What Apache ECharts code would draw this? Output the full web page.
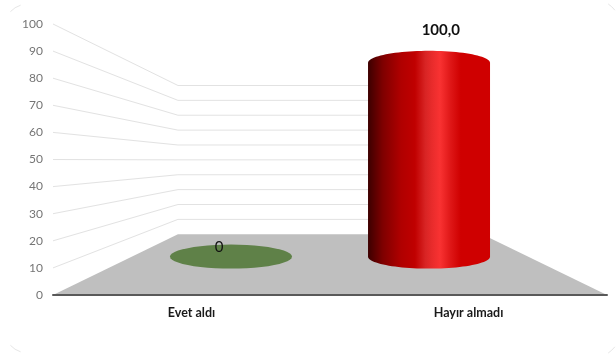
<!DOCTYPE html>
<html><head><meta charset="utf-8">
<style>html,body{margin:0;padding:0;background:#fff}#c{width:616px;height:356px}</style>
<script src="https://cdn.jsdelivr.net/npm/echarts@6/dist/echarts.min.js"></script>
</head><body><div id="c"></div>
<script>
const categories = ['Evet aldı', 'Hayır almadı'];
const values = [0, 100];
const valueLabels = ['0', '100,0'];
const wallTicks = [10, 20, 30, 40, 50, 60, 70, 80, 90, 100];

// perspective of the 3D box, applied on top of the axis scales
const BACK = 0.549, MID = 0.715, LABEL = 0.8, HORIZON = 49.7;
const RED = new echarts.graphic.LinearGradient(0, 0, 1, 0, [
  {offset: 0, color: '#3c0000'}, {offset: 0.12, color: '#7e0000'}, {offset: 0.27, color: '#b00000'},
  {offset: 0.385, color: '#c00000'}, {offset: 0.47, color: '#d82424'}, {offset: 0.53, color: '#ea2c2c'},
  {offset: 0.59, color: '#f93232'}, {offset: 0.68, color: '#de1616'}, {offset: 0.76, color: '#cf0000'}, {offset: 1, color: '#cf0000'}
]);

function projector(api, params) {
  const g = params.coordSys, cx = g.x + g.width / 2, hy = api.coord([0, HORIZON])[1];
  return (px, py, s) => [cx + (px - cx) * s, hy + (py - hy) * s];
}
function arc(cx, cy, rx, ry, from, to) {
  const out = [], n = 48;
  for (let i = 0; i <= n; i++) {
    const a = from + (to - from) * i / n;
    out.push([cx + rx * Math.cos(a), cy + ry * Math.sin(a)]);
  }
  return out;
}

const option = {
  animation: false,
  backgroundColor: '#fff',
  textStyle: {fontFamily: 'Lato'},
  grid: {left: 53, right: 9, top: 24, bottom: 61},
  xAxis: {
    type: 'category', data: categories, z: 5,
    axisLine: {lineStyle: {color: '#595959', width: 2}},
    axisTick: {show: false}, splitLine: {show: false},
    axisLabel: {color: '#1a1a1a', fontSize: 12.5, fontWeight: 'bold', fontFamily: 'Lato', margin: 11}
  },
  yAxis: {
    type: 'value', min: 0, max: 100, interval: 10,
    axisLine: {show: false}, axisTick: {show: false}, splitLine: {show: false},
    axisLabel: {color: '#757575', fontSize: 12, fontFamily: 'Lato', margin: 10}
  },
  graphic: [
    [28, 28, 24, 223, 252], [28, 329, 24, 108, 137], [592, 28, 29, -56, -38], [592, 329, 29, 38, 56]
  ].map(a => ({
    type: 'arc', silent: true,
    shape: {cx: a[0], cy: a[1], r: a[2], startAngle: a[3] * Math.PI / 180, endAngle: a[4] * Math.PI / 180},
    style: {fill: null, stroke: '#e6e6e6', lineWidth: 1}
  })),
  series: [
    {
      type: 'custom', z: 1, silent: true, coordinateSystem: 'cartesian2d', clip: false,
      data: wallTicks.map(v => [0, v]),
      encode: {x: 0, y: 1},
      renderItem(params, api) {
        const P = projector(api, params), g = params.coordSys, y = api.coord([0, api.value(1)])[1];
        return {type: 'polyline',
          shape: {points: [[g.x, y], P(g.x, y, BACK), P(g.x + g.width, y, BACK)]},
          style: {fill: null, stroke: '#e2e2e2', lineWidth: 1}};
      }
    },
    {
      type: 'custom', z: 2, silent: true, clip: false,
      data: [[0, 0]],
      encode: {x: 0, y: 1},
      renderItem(params, api) {
        const P = projector(api, params), g = params.coordSys, y = api.coord([0, 0])[1];
        return {type: 'polygon',
          shape: {points: [[g.x, y], P(g.x, y, BACK), P(g.x + g.width, y, BACK), [g.x + g.width, y]]},
          style: {fill: '#bfbfbf'}};
      }
    },
    {
      type: 'custom', z: 6, silent: true, clip: false,
      data: values.map((v, i) => [i, v]),
      encode: {x: 0, y: 1},
      renderItem(params, api) {
        const P = projector(api, params), i = api.value(0), v = api.value(1);
        const base = api.coord([i, 0]), top = api.coord([i, v]);
        const b = P(base[0], base[1], MID), t = P(top[0], top[1], MID);
        const rx = api.size([1, 0])[0] * 0.308 * MID, ry = 12;
        const children = [];
        if (v > 0) {
          const pts = arc(t[0], t[1], rx, ry, Math.PI, 2 * Math.PI).concat(arc(b[0], b[1], rx, ry, 0, Math.PI));
          children.push({type: 'polygon', shape: {points: pts}, style: {fill: RED}});
        } else {
          children.push({type: 'polygon', shape: {points: arc(b[0], b[1], rx, ry, 0, 2 * Math.PI)}, style: {fill: '#5f8148'}});
        }
        const l = P(top[0], top[1], LABEL);
        children.push({type: 'text', z2: 10, style: {
          x: l[0], y: l[1] - 21, text: valueLabels[params.dataIndex], align: 'center', verticalAlign: 'middle',
          fontFamily: 'Lato', fontSize: 15, fontWeight: v > 0 ? 'bold' : 'normal', fill: '#111'
        }});
        return {type: 'group', children};
      }
    }
  ]
};
echarts.init(document.getElementById('c'), null, {renderer: 'canvas'}).setOption(option);
</script></body></html>
